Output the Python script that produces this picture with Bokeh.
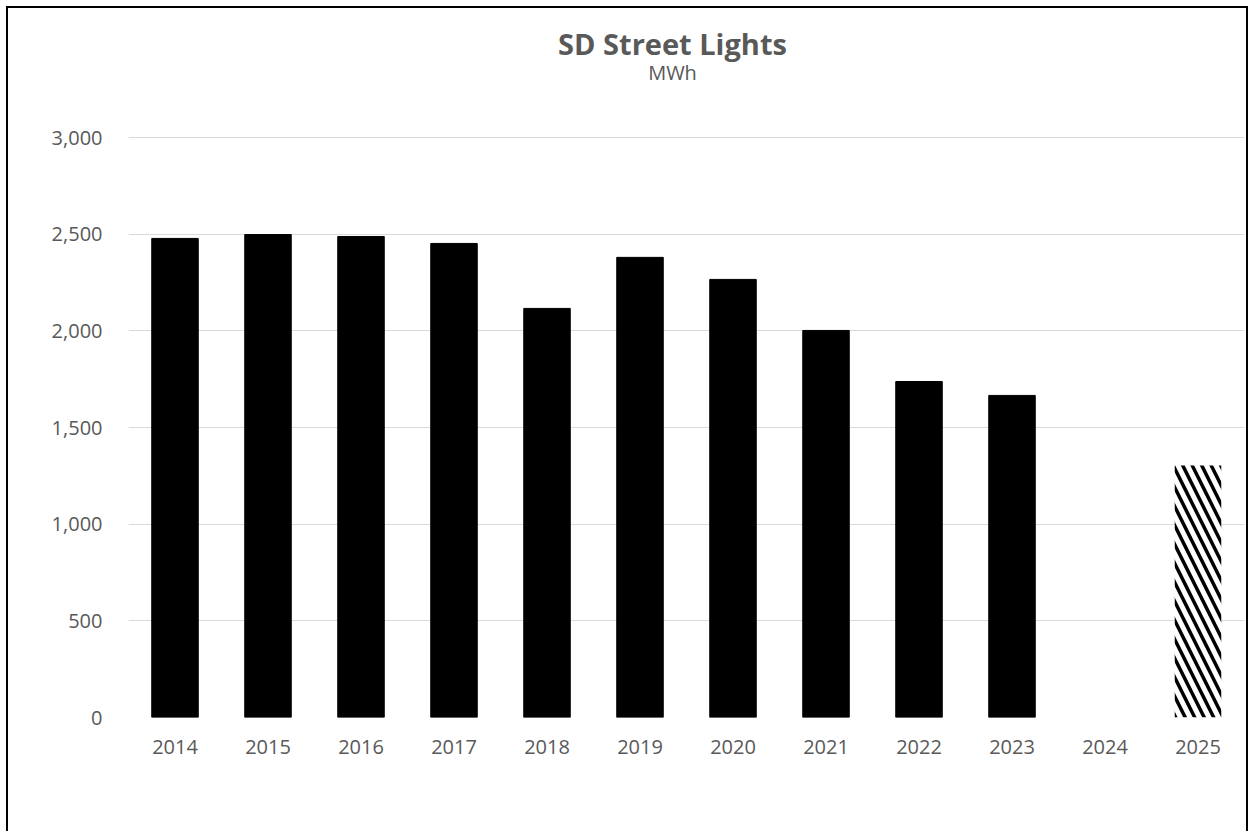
from bokeh.plotting import figure
from bokeh.models import ColumnDataSource, FactorRange, FixedTicker, NumeralTickFormatter, Label, Range1d
from bokeh.embed import file_html
from bokeh.resources import INLINE

years = ["2014", "2015", "2016", "2017", "2018", "2019", "2020", "2021", "2022", "2023", "2024", "2025"]
actual = [2478, 2498, 2488, 2452, 2116, 2380, 2266, 2002, 1738, 1666, None, None]
forecast = [None, None, None, None, None, None, None, None, None, None, None, 1304]
y_ticks = [0, 500, 1000, 1500, 2000, 2500, 3000]
title_text = "SD Street Lights"
subtitle_text = "MWh"

FONT = "Open Sans"
GRAY = "#595959"

# layout (pixels)
H = 830
BOTTOM = 121
FRAME_H = H - BOTTOM          # frame fills to top of canvas
AXIS_SPAN = 580               # pixels from 0 to 3000
y_top = y_ticks[-1] * FRAME_H / AXIS_SPAN

src = ColumnDataSource(dict(x=years,
                            actual=[v if v is not None else float("nan") for v in actual],
                            forecast=[v if v is not None else float("nan") for v in forecast]))

p = figure(x_range=FactorRange(*years), y_range=Range1d(0, y_top),
           width=1242, height=H, output_backend="svg", toolbar_location=None,
           min_border_left=120, min_border_right=6, min_border_top=0, min_border_bottom=BOTTOM)
p.styles = {"margin-left": "6px", "margin-top": "6px", "border": "2px solid black"}
p.outline_line_color = None
p.background_fill_color = "white"
p.border_fill_color = "white"

p.vbar(x="x", top="actual", width=0.5, source=src, fill_color="black", line_color="black")
p.vbar(x="x", top="forecast", width=0.5, source=src, fill_color="white", line_color=None,
       hatch_pattern="\\", hatch_color="black", hatch_weight=3.5, hatch_scale=19)

p.yaxis.ticker = FixedTicker(ticks=y_ticks)
p.yaxis.formatter = NumeralTickFormatter(format="0,0")
for ax in (p.xaxis, p.yaxis):
    ax.axis_line_color = None
    ax.major_tick_line_color = None
    ax.minor_tick_line_color = None
    ax.major_label_text_font = FONT
    ax.major_label_text_font_size = "20px"
    ax.major_label_text_color = GRAY
p.yaxis.major_label_standoff = 20
p.xaxis.major_label_standoff = 16
p.xgrid.grid_line_color = None
p.ygrid.grid_line_color = "#d9d9d9"
p.ygrid.grid_line_width = 1

p.add_layout(Label(x=544, y=FRAME_H - 35, x_units="screen", y_units="screen", text=title_text,
                   text_font=FONT, text_font_style="bold", text_font_size="29px",
                   text_color=GRAY, text_align="center", text_baseline="middle"))
p.add_layout(Label(x=544, y=FRAME_H - 64, x_units="screen", y_units="screen", text=subtitle_text,
                   text_font=FONT, text_font_size="20px",
                   text_color=GRAY, text_align="center", text_baseline="middle"))

open("out.html", "w").write(file_html(p, INLINE))
